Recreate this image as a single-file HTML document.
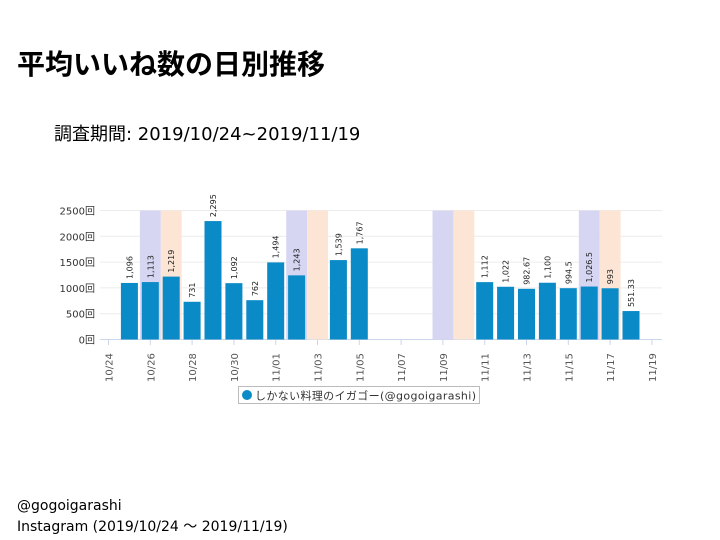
<!DOCTYPE html>
<html><head><meta charset="utf-8"><style>
body{margin:0;width:720px;height:540px;background:#fff;position:relative;overflow:hidden;font-family:"Liberation Sans","Noto Sans CJK JP",sans-serif}
.t{position:absolute;white-space:nowrap;color:#000}
</style></head><body>
<div class="t" style="left:17px;top:43px;font-size:28px;font-weight:bold;letter-spacing:0px">平均いいね数の日別推移</div>
<div class="t" style="left:54px;top:120px;font-size:18px;font-family:'DejaVu Sans','Noto Sans CJK JP',sans-serif">調査期間: 2019/10/24~2019/11/19</div>
<svg id="c" width="720" height="540" style="position:absolute;left:0;top:0;font-family:'DejaVu Sans','Noto Sans CJK JP',sans-serif"></svg>
<div class="t" style="left:17px;top:498px;font-size:14px;font-family:'DejaVu Sans','Noto Sans CJK JP',sans-serif">@gogoigarashi</div>
<div class="t" style="left:17px;top:516px;font-size:14px;font-family:'DejaVu Sans','Noto Sans CJK JP',sans-serif">Instagram (2019/10/24 〜 2019/11/19)</div>
<script>
const dates=["10/24","10/25","10/26","10/27","10/28","10/29","10/30","10/31","11/01","11/02","11/03","11/04","11/05","11/06","11/07","11/08","11/09","11/10","11/11","11/12","11/13","11/14","11/15","11/16","11/17","11/18","11/19"];
const values=[null,1096,1113,1219,731,2295,1092,762,1494,1243,null,1539,1767,null,null,null,null,null,1112,1022,982.67,1100,994.5,1026.5,993,551.33,null];
const labels=[null,"1,096","1,113","1,219","731","2,295","1,092","762","1,494","1,243",null,"1,539","1,767",null,null,null,null,null,"1,112","1,022","982.67","1,100","994.5","1,026.5","993","551.33",null];
const saturdays=["10/26","11/02","11/09","11/16"];
const sundays=["10/27","11/03","11/10","11/17"];
const yTicks=[0,500,1000,1500,2000,2500];
const svg=document.getElementById('c');const NS="http://www.w3.org/2000/svg";
const x=i=>108.5+i*20.9;const y=v=>339.5-v*129/2500;
function mk(t,a,p){const e=document.createElementNS(NS,t);for(const k in a)e.setAttribute(k,a[k]);(p||svg).appendChild(e);return e;}
yTicks.forEach(v=>{const g=mk('line',{x1:100,x2:662,y1:y(v),y2:y(v),stroke:v?'#ececec':'#ccd6eb','stroke-width':1});


const t=mk('text',{x:95,y:y(v)+4,'text-anchor':'end','font-size':10,fill:'#333'});t.textContent=v+'回';

});
[[saturdays,'#d6d6f3'],[sundays,'#fde5d6']].forEach(([arr,col])=>arr.forEach(d=>{const i=dates.indexOf(d);
const r=mk('rect',{x:x(i)-10.4,y:y(2500),width:20.9,height:y(0)-y(2500),fill:col});

}));
dates.forEach((d,i)=>{if(i%2==0){mk('line',{x1:x(i),x2:x(i),y1:339.5,y2:345,stroke:'#ccd6eb'});
const t=mk('text',{transform:`translate(${x(i)+4},382) rotate(-90)`,'font-size':10,fill:'#555'});t.textContent=d;

}
if(values[i]!=null){const b=mk('rect',{x:x(i)-8.5,y:y(values[i]),width:17,height:y(0)-y(values[i]),fill:'#0a8ac6'});


const t=mk('text',{transform:`translate(${x(i)+3},${y(values[i])-4}) rotate(-90)`,'font-size':8,fill:'#222'});t.textContent=labels[i];

}});
const lg=mk('rect',{x:238.5,y:386.5,width:241,height:17,fill:'#fff',stroke:'#bbb'});


const lc=mk('circle',{cx:247,cy:395,r:5,fill:'#0a8ac6'});


const lt=mk('text',{x:255,y:399.5,'font-size':11,fill:'#333',textLength:221});lt.textContent='しかない料理のイガゴー(@gogoigarashi)';


</script>
</body></html>
